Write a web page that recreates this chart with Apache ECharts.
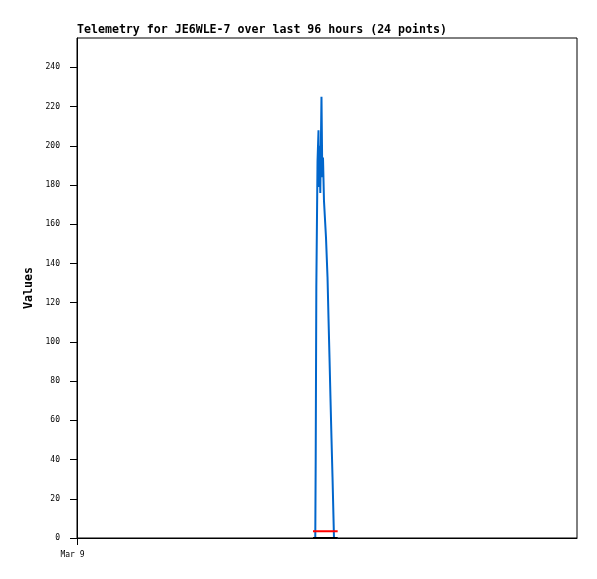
<!DOCTYPE html>
<html>
<head>
<meta charset="utf-8">
<script src="https://cdn.jsdelivr.net/npm/echarts@6/dist/echarts.min.js"></script>
<style>
html,body{margin:0;padding:0;background:#fff;}
#chart{width:597px;height:579px;}
</style>
</head>
<body>
<div id="chart"></div>
<script>
// Hours since start of Mar 9
const hours = [45.31, 45.75, 45.83, 45.95, 46.18, 46.37, 46.43, 46.56, 46.71, 46.94, 47.10, 47.23,
               47.42, 47.81, 48.10, 48.29, 48.48, 48.67, 48.86, 49.06, 49.25, 49.34, 49.73, 50.05];
const blueValues = [0, 0, 40, 128, 192, 208, 179, 200, 176, 225, 184, 194,
                    172, 153, 133, 112, 92, 71, 51, 31, 10, 0, 0, 0];
const redValues = [3.5, 3.5, 3.5, 3.5, 3.5, 3.5, 3.5, 3.5, 3.5, 3.5, 3.5, 3.5,
                   3.5, 3.5, 3.5, 3.5, 3.5, 3.5, 3.5, 3.5, 3.5, 3.5, 3.5, 3.5];
const blackValues = [0, 0, 0, 0, 0, 0, 0, 0, 0, 0, 0, 0,
                     0, 0, 0, 0, 0, 0, 0, 0, 0, 0, 0, 0];
const yTicks = [0, 20, 40, 60, 80, 100, 120, 140, 160, 180, 200, 220, 240];
const xTicks = [0];
const xTickLabels = ['Mar 9'];
const titleText = 'Telemetry for JE6WLE-7 over last 96 hours (24 points)';

const pair = (vals) => hours.map((h, i) => [h, vals[i]]);
const mono = '"DejaVu Sans Mono", "Liberation Mono", monospace';

const chart = echarts.init(document.getElementById('chart'), null, {renderer: 'canvas'});
chart.setOption({
  animation: false,
  backgroundColor: '#ffffff',
  title: {
    text: titleText,
    left: 72, top: 19,
    textStyle: {fontFamily: mono, fontSize: 11.6, fontWeight: 'bold', color: '#000'}
  },
  grid: {left: 77, top: 38, right: 20, bottom: 41, show: true, borderColor: '#000', borderWidth: 1, backgroundColor: 'transparent'},
  xAxis: {
    type: 'value', min: 0, max: 96,
    axisLine: {onZero: false, lineStyle: {color: '#000', width: 1}},
    axisTick: {show: true, length: 7, lineStyle: {color: '#000'}, customValues: xTicks},
    axisLabel: {
      customValues: xTicks,
      formatter: (v) => { const i = xTicks.indexOf(v); return i >= 0 ? xTickLabels[i] : ''; },
      fontFamily: mono, fontSize: 8, color: '#000', margin: 13, padding: [0, 9, 0, 0]
    },
    splitLine: {show: false}
  },
  yAxis: {
    type: 'value', min: 0, max: 255,
    name: 'Values', nameLocation: 'middle', nameGap: 33,
    nameTextStyle: {fontFamily: mono, fontSize: 11.6, fontWeight: 'bold', color: '#000'},
    axisLine: {show: true, lineStyle: {color: '#000', width: 1}},
    axisTick: {show: true, length: 7, lineStyle: {color: '#000'}, customValues: yTicks},
    axisLabel: {customValues: yTicks, fontFamily: mono, fontSize: 8, color: '#000', margin: 17},
    splitLine: {show: false}
  },
  series: [
    {type: 'line', data: pair(blueValues), showSymbol: false, lineStyle: {color: '#0066cc', width: 2}, z: 2},
    {type: 'line', data: pair(redValues), showSymbol: false, lineStyle: {color: '#ff0000', width: 2}, z: 3},
    {type: 'line', data: pair(blackValues), showSymbol: false, lineStyle: {color: '#000000', width: 2}, z: 4}
  ]
});
</script>
</body>
</html>
